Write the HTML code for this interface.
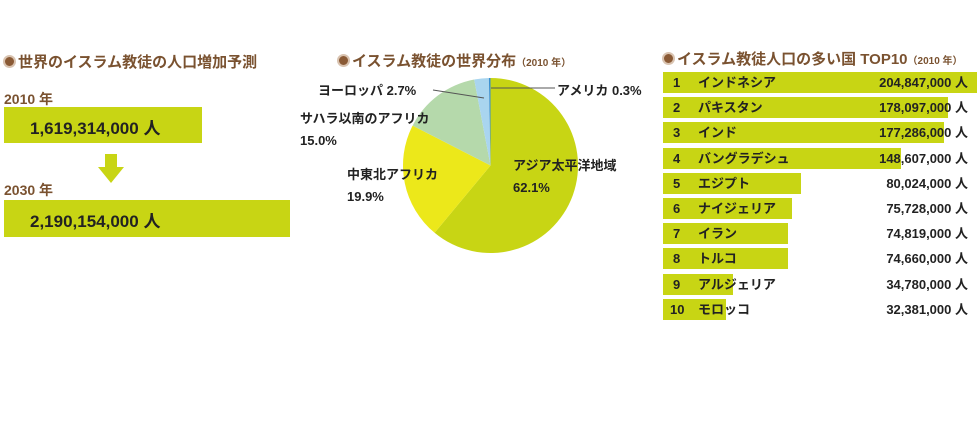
<!DOCTYPE html>
<html><head><meta charset="utf-8"><style>
body{margin:0;width:978px;height:421px;background:#fff;position:relative;overflow:hidden;font-family:"Liberation Sans","Noto Sans CJK JP",sans-serif;font-weight:bold;color:#222}
.a{position:absolute;white-space:nowrap}
.t{color:#7a5230;font-size:15px}
.g{background:#c8d514}
.dot{display:inline-block;width:9px;height:9px;border-radius:50%;background:#8a5a35;border:2px solid #d9c3b0;margin-right:2px;vertical-align:-1px}
.row{position:absolute;left:663px;height:21px}
.row span{position:absolute;font-size:13px;top:0;line-height:21px;height:21px}
</style></head><body>
<div class="a t" style="left:3px;top:51px"><span class="dot"></span>世界のイスラム教徒の人口増加予測</div>
<div class="a" style="left:4px;top:89px;font-size:14px;color:#7a5230">2010 年</div>
<div class="a g" style="left:4px;top:107px;width:198px;height:36px"></div>
<div class="a" style="left:30px;top:114px;font-size:17px">1,619,314,000 人</div>
<svg class="a" style="left:98px;top:154px" width="26" height="30"><rect x="7" y="0" width="12" height="14" fill="#c8d514"/><polygon points="0,13 26,13 13,29" fill="#c8d514"/></svg>
<div class="a" style="left:4px;top:180px;font-size:14px;color:#7a5230">2030 年</div>
<div class="a g" style="left:4px;top:200px;width:286px;height:37px"></div>
<div class="a" style="left:30px;top:207px;font-size:17px">2,190,154,000 人</div>

<div class="a t" style="left:337px;top:50px"><span class="dot"></span>イスラム教徒の世界分布<span style="font-size:10px">（2010 年）</span></div>
<svg class="a" style="left:0;top:0" width="978" height="421">
<g transform="translate(490.5,165.5)">
<path d="M0,0 L0,-87.5 A87.5,87.5 0 1 1 -55.9,67.3 Z" fill="#c8d514"/>
<path d="M0,0 L-55.9,67.3 A87.5,87.5 0 0 1 -77.9,-39.9 Z" fill="#ece81a"/>
<path d="M0,0 L-77.9,-39.9 A87.5,87.5 0 0 1 -16.3,-86 Z" fill="#b5d9ab"/>
<path d="M0,0 L-16.3,-86 A87.5,87.5 0 0 1 -1.6,-87.5 Z" fill="#a9d5ef"/>
<path d="M0,0 L-1.6,-87.5 L0,-87.5 Z" fill="#3a8fd0"/>
</g>
<line x1="433" y1="90" x2="484" y2="98" stroke="#555" stroke-width="1"/>
<line x1="491" y1="88" x2="555" y2="88" stroke="#555" stroke-width="1"/>
</svg>
<div class="a" style="left:318px;top:80px;font-size:13px">ヨーロッパ 2.7%</div>
<div class="a" style="left:557px;top:80px;font-size:13px">アメリカ 0.3%</div>
<div class="a" style="left:300px;top:108px;font-size:13px;line-height:22px">サハラ以南のアフリカ<br>15.0%</div>
<div class="a" style="left:347px;top:164px;font-size:13px;line-height:22px">中東北アフリカ<br>19.9%</div>
<div class="a" style="left:513px;top:155px;font-size:13px;line-height:22px">アジア太平洋地域<br>62.1%</div>

<div class="a t" style="left:662px;top:48px"><span class="dot"></span>イスラム教徒人口の多い国 TOP10<span style="font-size:10px">（2010 年）</span></div>
<div class="row g" style="top:72px;width:314px"></div>
<div class="row g" style="top:97px;width:285px"></div>
<div class="row g" style="top:122px;width:281px"></div>
<div class="row g" style="top:148px;width:238px"></div>
<div class="row g" style="top:173px;width:138px"></div>
<div class="row g" style="top:198px;width:129px"></div>
<div class="row g" style="top:223px;width:125px"></div>
<div class="row g" style="top:248px;width:125px"></div>
<div class="row g" style="top:274px;width:70px"></div>
<div class="row g" style="top:299px;width:63px"></div>
<div class="row" style="top:72px;width:305px"><span style="left:10px">1</span><span style="left:35px">インドネシア</span><span style="right:0">204,847,000 人</span></div>
<div class="row" style="top:97px;width:305px"><span style="left:10px">2</span><span style="left:35px">パキスタン</span><span style="right:0">178,097,000 人</span></div>
<div class="row" style="top:122px;width:305px"><span style="left:10px">3</span><span style="left:35px">インド</span><span style="right:0">177,286,000 人</span></div>
<div class="row" style="top:148px;width:305px"><span style="left:10px">4</span><span style="left:35px">バングラデシュ</span><span style="right:0">148,607,000 人</span></div>
<div class="row" style="top:173px;width:305px"><span style="left:10px">5</span><span style="left:35px">エジプト</span><span style="right:0">80,024,000 人</span></div>
<div class="row" style="top:198px;width:305px"><span style="left:10px">6</span><span style="left:35px">ナイジェリア</span><span style="right:0">75,728,000 人</span></div>
<div class="row" style="top:223px;width:305px"><span style="left:10px">7</span><span style="left:35px">イラン</span><span style="right:0">74,819,000 人</span></div>
<div class="row" style="top:248px;width:305px"><span style="left:10px">8</span><span style="left:35px">トルコ</span><span style="right:0">74,660,000 人</span></div>
<div class="row" style="top:274px;width:305px"><span style="left:10px">9</span><span style="left:35px">アルジェリア</span><span style="right:0">34,780,000 人</span></div>
<div class="row" style="top:299px;width:305px"><span style="left:7px">10</span><span style="left:35px">モロッコ</span><span style="right:0">32,381,000 人</span></div>
</body></html>
